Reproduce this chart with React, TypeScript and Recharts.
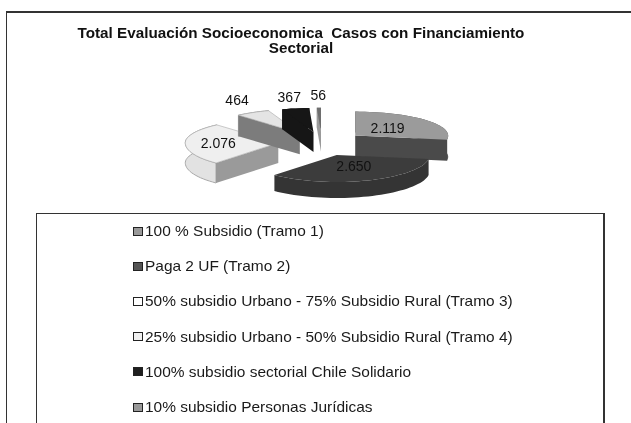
import React from 'react';
import { PieChart, Pie, Legend } from 'recharts';

const categories = [
  '100 % Subsidio (Tramo 1)',
  'Paga 2 UF (Tramo 2)',
  '50% subsidio Urbano - 75% Subsidio Rural (Tramo 3)',
  '25% subsidio Urbano - 50% Subsidio Rural (Tramo 4)',
  '100% subsidio sectorial Chile Solidario',
  '10% subsidio Personas Jurídicas',
];
const values = [2119, 2650, 2076, 464, 367, 56];
const valueLabels = ['2.119', '2.650', '2.076', '464', '367', '56'];
const titleLines = ['Total Evaluación Socioeconomica  Casos con Financiamiento', 'Sectorial'];

const topFills = ['#9b9b9b', '#3c3c3c', '#efefef', '#e4e4e4', '#161616', '#6e6e6e'];
const rimFills = ['#4a4a4a', '#343434', '#e2e2e2', '#8a8a8a', '#161616', '#8a8a8a'];
const wallFills = ['#4a4a4a', '#333333', '#9a9a9a', '#7c7c7c', '#161616', '#9a9a9a'];
const strokes = ['none', 'none', '#a8a8a8', '#a8a8a8', 'none', 'none'];
const swatchFills = ['#999999', '#555555', '#ffffff', '#f0f0f0', '#1f1f1f', '#999999'];
const depths = [21, 16, 20, 21, 20, 20];
const labelReachX = [0.46, 0.55, 0.645, 1.33, 1.35, 1.3];
const labelReachY = [0.5, 0.42, 0.66, 1.62, 1.47, 1.52];

const rows = categories.map((name, i) => ({ name, value: values[i], fill: swatchFills[i] }));

const TILT_BACK = 24;
const TILT_FRONT = 27;
const EXPLODE = 0.47;
const R = 93;

const rad = (deg: number) => (deg * Math.PI) / 180;
// recharts angle -> clockwise-from-top angle
const cw = (a: number) => 90 - a;
const project = (cx: number, cy: number, theta: number, r: number) => {
  const x = Math.sin(rad(theta));
  const z = -Math.cos(rad(theta));
  return { x: cx + r * x, y: cy + z * (z < 0 ? TILT_BACK : TILT_FRONT) * (r / R) };
};
const apexOf = (cx: number, cy: number, mid: number) => project(cx, cy, mid, EXPLODE * R);
const pts = (list: { x: number; y: number }[], dy = 0) =>
  list.map((p) => `${p.x.toFixed(1)},${(p.y + dy).toFixed(1)}`);

function Slice3D(props: any) {
  const { cx, cy, startAngle, endAngle, outerRadius, index } = props;
  const t0 = cw(startAngle);
  const t1 = cw(endAngle);
  const depth = depths[index];
  const apex = apexOf(cx, cy, (t0 + t1) / 2);
  const rim: { x: number; y: number }[] = [];
  const steps = Math.max(3, Math.ceil((t1 - t0) / 3));
  for (let s = 0; s <= steps; s++) {
    const p = project(0, 0, t0 + ((t1 - t0) * s) / steps, outerRadius);
    rim.push({ x: apex.x + p.x, y: apex.y + p.y });
  }
  const rimWall = [...pts(rim), ...pts([...rim].reverse(), depth)].join(' ');
  const wallEdge = t0 >= 180 ? rim[0] : t1 <= 180 ? rim[rim.length - 1] : null;
  const wall = wallEdge ? [...pts([apex, wallEdge]), ...pts([wallEdge, apex], depth)].join(' ') : '';
  const top = [...pts([apex]), ...pts(rim)].join(' ');
  return (
    <g style={{ filter: 'blur(0.6px)' }}>
      <polygon points={rimWall} fill={rimFills[index]} stroke={strokes[index]} strokeWidth={1} />
      {wall && <polygon points={wall} fill={wallFills[index]} />}
      <polygon points={top} fill={topFills[index]} stroke={strokes[index]} strokeWidth={0.6} />
    </g>
  );
}

function SliceLabel(props: any) {
  const { cx, cy, midAngle, outerRadius, index } = props;
  const mid = cw(midAngle);
  const apex = apexOf(cx, cy, mid);
  const px = apex.x + Math.sin(rad(mid)) * outerRadius * labelReachX[index];
  const z = -Math.cos(rad(mid));
  const py = apex.y + z * (z < 0 ? TILT_BACK : TILT_FRONT) * labelReachY[index];
  return (
    <text x={px} y={py} textAnchor="middle" dominantBaseline="central" fontSize={14} fill="#111"
      fontFamily="'Liberation Sans', Arial, sans-serif">
      {valueLabels[index]}
    </text>
  );
}

function LegendBox(props: any) {
  const items = props.payload || [];
  return (
    <div style={{ position: 'absolute', left: 0, top: 0, width: 569, height: 260, boxSizing: 'border-box',
      border: '1px solid #333', borderRightWidth: 2, background: '#fff' }}>
      {items.map((it: any, i: number) => (
        <div key={i} style={{ position: 'absolute', left: 96, top: 7 + i * 35.2, height: 20, display: 'flex',
          alignItems: 'center', whiteSpace: 'nowrap', fontFamily: "'Liberation Sans', Arial, sans-serif",
          fontSize: 14.5, color: '#1a1a1a' }}>
          <span style={{ width: 8, height: 7, border: '1px solid #222', background: it.color,
            marginRight: 2, display: 'inline-block', flex: 'none' }} />
          <span style={{ display: 'inline-block', transform: 'scaleX(1.065)', transformOrigin: 'left center' }}>{it.value}</span>
        </div>
      ))}
    </div>
  );
}

export default function App() {
  return (
    <div style={{ position: 'fixed', left: 0, top: 0, width: 631, height: 423, overflow: 'hidden', background: '#fff' }}>
      <div style={{ position: 'absolute', left: 6, top: 11, width: 700, height: 500,
        borderLeft: '1px solid #333', borderTop: '2px solid #333' }} />
      <div style={{ position: 'absolute', left: 0, top: 0, filter: 'blur(0.3px)' }}>
        <PieChart width={631} height={423} margin={{ top: 0, right: 0, bottom: 0, left: 0 }}>
          <text transform="translate(301,0) scale(1.09,1)" textAnchor="middle" fontFamily="'Liberation Sans', Arial, sans-serif"
            fontWeight="bold" fontSize={14} fill="#111" style={{ whiteSpace: 'pre' }}>
            <tspan x={0} y={38}>{titleLines[0]}</tspan>
            <tspan x={0} y={53}>{titleLines[1]}</tspan>
          </text>
          <Pie
            data={rows}
            dataKey="value"
            nameKey="name"
            cx={322}
            cy={143}
            outerRadius={R}
            startAngle={90}
            endAngle={-270}
            stroke="none"
            paddingAngle={0}
            shape={Slice3D}
            label={SliceLabel}
            labelLine={false}
            isAnimationActive={false}
          />
          <Legend
            content={LegendBox}
            itemSorter={null}
            wrapperStyle={{ position: 'absolute', left: 36, top: 213, width: 569, height: 260, bottom: 'auto', right: 'auto' }}
          />
        </PieChart>
      </div>
    </div>
  );
}
